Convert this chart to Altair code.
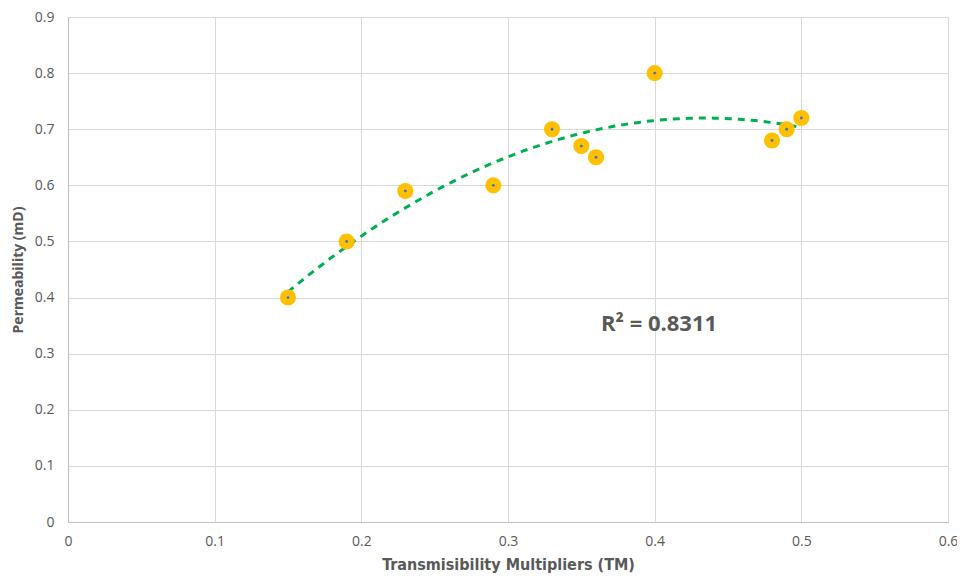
import altair as alt
import pandas as pd

tm = [0.15, 0.19, 0.23, 0.29, 0.33, 0.35, 0.36, 0.40, 0.48, 0.49, 0.50]
perm = [0.40, 0.50, 0.59, 0.60, 0.70, 0.67, 0.65, 0.80, 0.68, 0.70, 0.72]
x_ticks = [0, 0.1, 0.2, 0.3, 0.4, 0.5, 0.6]
y_ticks = [0, 0.1, 0.2, 0.3, 0.4, 0.5, 0.6, 0.7, 0.8, 0.9]
r2_label = ["R² = 0.8311"]
r2_pos_x = [0.403]
r2_pos_y = [0.353]

df = pd.DataFrame({"tm": tm, "perm": perm})
ann = pd.DataFrame({"x": r2_pos_x, "y": r2_pos_y, "t": r2_label})

font = "Open Sans"
cond = "'DejaVu Sans Condensed', 'Open Sans', sans-serif"
xsc = alt.Scale(domain=[0, 0.6], nice=False, zero=True)
ysc = alt.Scale(domain=[0, 0.9], nice=False, zero=True)

xax = alt.Axis(values=x_ticks, title="Transmisibility Multipliers (TM)", grid=True,
               gridColor="#d9d9d9", domainColor="#bfbfbf", ticks=False,
               labelColor="#595959", labelFont=font, labelFontSize=14, labelPadding=12,
               titleColor="#595959", titleFont=cond, titleFontSize=16,
               titleFontWeight="bold", titleY=42, titleBaseline="middle", labelFlush=False,
               labelExpr="datum.value == 0 ? '0' : format(datum.value, '.1f')")
yax = alt.Axis(values=y_ticks, title="Permeability (mD)", grid=True,
               gridColor="#d9d9d9", domainColor="#bfbfbf", ticks=False,
               labelColor="#595959", labelFont=font, labelFontSize=14, labelPadding=14,
               titleColor="#595959", titleFont=font, titleFontSize=14,
               titleFontWeight="bold", titleX=-50, titleBaseline="middle", labelFlush=False,
               labelExpr="datum.value == 0 ? '0' : format(datum.value, '.1f')")

base = alt.Chart(df)

trend = base.transform_regression("tm", "perm", method="poly", order=2).mark_line(
    color="#00B050", strokeWidth=3, strokeDash=[7, 6]
).encode(x=alt.X("tm:Q", scale=xsc, axis=xax), y=alt.Y("perm:Q", scale=ysc, axis=yax))

pts = base.mark_circle(size=260, color="#FFC000", opacity=1).encode(
    x=alt.X("tm:Q", scale=xsc), y=alt.Y("perm:Q", scale=ysc))
dots = base.mark_circle(size=8, color="#4472C4", opacity=1).encode(
    x=alt.X("tm:Q", scale=xsc), y=alt.Y("perm:Q", scale=ysc))

txt = alt.Chart(ann).mark_text(fontSize=22, fontWeight="bold", color="#595959", font=font,
                               align="center", baseline="middle").encode(
    x=alt.X("x:Q", scale=xsc), y=alt.Y("y:Q", scale=ysc), text="t:N")

chart = alt.layer(trend, pts, dots, txt).properties(
    width=880, height=505,
    autosize=alt.AutoSizeParams(type="none"),
    padding={"left": 60, "top": 9, "right": 9, "bottom": 54},
).configure_view(stroke=None).configure(background="white")

chart.save("out.html", embed_options={"renderer": "svg", "actions": False})
